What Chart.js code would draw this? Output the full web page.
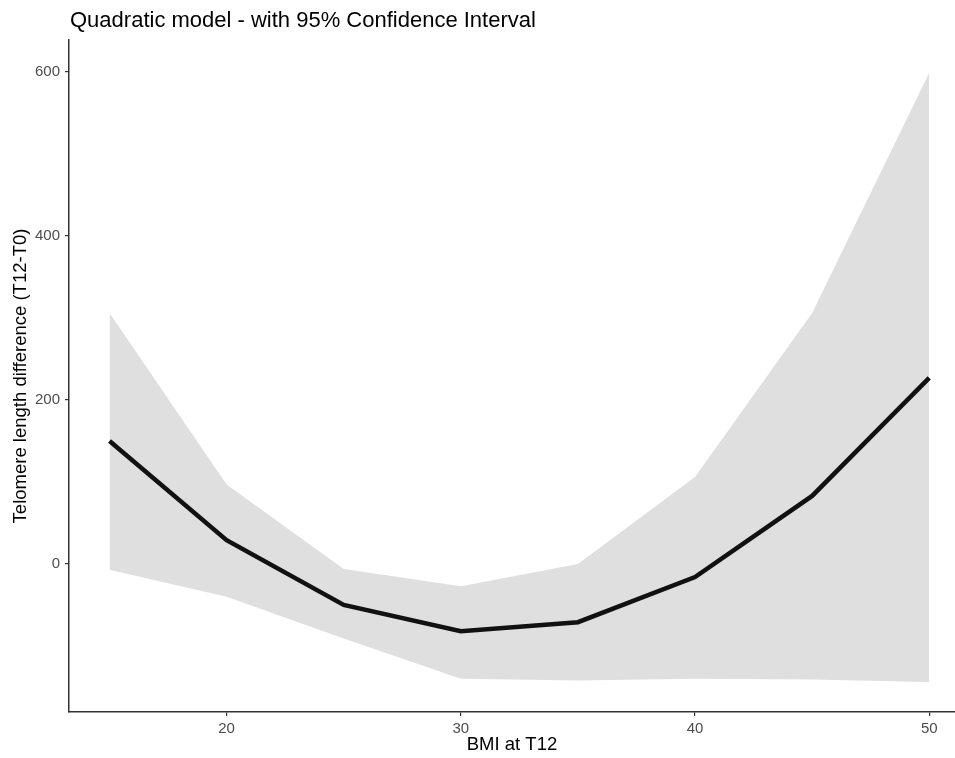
<!DOCTYPE html>
<html>
<head>
<meta charset="utf-8">
<title>Quadratic model - with 95% Confidence Interval</title>
<script src="https://cdn.jsdelivr.net/npm/chart.js@4.4.1/dist/chart.umd.min.js"></script>
<style>
  html, body { margin: 0; padding: 0; background: #fff; }
  #wrap { width: 955px; height: 758px; }
</style>
</head>
<body>
<div id="wrap"><canvas id="chart" width="955" height="758"></canvas></div>
<script>
const chartTitle = 'Quadratic model - with 95% Confidence Interval';
const xTitle = 'BMI at T12';
const yTitle = 'Telomere length difference (T12-T0)';

// BMI values where the model was evaluated
const bmi = [15, 20, 25, 30, 35, 40, 45, 50];
// fitted values and the 95% band
const fit = [150, 29, -50, -82, -71, -16, 83, 227];
const upper = [306, 97, -6, -27, 0, 106, 306, 599];
const lower = [-7, -40, -91, -140, -142, -140, -141, -144];

const xTicks = [20, 30, 40, 50];
const yTicks = [0, 200, 400, 600];

const fontFamily = '"Liberation Sans", Arial, sans-serif';
const axisColor = '#333333';
const tickColor = '#4d4d4d';

const toPoints = ys => bmi.map((x, i) => ({ x, y: ys[i] }));

// title sits flush with the left edge of the plot area
const titlePlugin = {
  id: 'leftTitle',
  afterDraw(chart) {
    const ctx = chart.ctx;
    ctx.save();
    ctx.font = '22px ' + fontFamily;
    ctx.fillStyle = '#000';
    ctx.textBaseline = 'alphabetic';
    ctx.textAlign = 'left';
    ctx.fillText(chartTitle, chart.chartArea.left + 1, 27);
    ctx.restore();
  }
};

new Chart(document.getElementById('chart'), {
  type: 'line',
  data: {
    datasets: [
      {
        label: 'Fit',
        data: toPoints(fit),
        borderColor: '#111111',
        borderWidth: 4.5,
        pointRadius: 0,
        tension: 0,
        fill: false
      },
      {
        label: 'Lower',
        data: toPoints(lower),
        borderWidth: 0,
        borderColor: 'rgba(0,0,0,0)',
        pointRadius: 0,
        fill: false
      },
      {
        label: 'Upper',
        data: toPoints(upper),
        borderWidth: 0,
        borderColor: 'rgba(0,0,0,0)',
        backgroundColor: '#dfdfdf',
        pointRadius: 0,
        fill: 1
      }
    ]
  },
  options: {
    responsive: false,
    animation: false,
    layout: { padding: { top: 40, right: 0, bottom: 0, left: 0 } },
    plugins: {
      legend: { display: false },
      tooltip: { enabled: false },
      title: { display: false }
    },
    scales: {
      x: {
        type: 'linear',
        min: 13.27,
        max: 51.1,
        afterBuildTicks: s => { s.ticks = xTicks.map(v => ({ value: v })); },
        afterFit: s => { s.height = 46; },
        grid: { display: true, drawOnChartArea: false, drawTicks: true, tickLength: 4, color: axisColor, lineWidth: 1.2 },
        border: { display: true, color: axisColor, width: 1.5 },
        ticks: { color: tickColor, font: { family: fontFamily, size: 15 }, padding: 4, maxRotation: 0 },
        title: { display: true, text: xTitle, color: '#000', font: { family: fontFamily, size: 18.5 }, padding: { top: 0, bottom: 2 } }
      },
      y: {
        type: 'linear',
        min: -180.5,
        max: 639,
        afterBuildTicks: s => { s.ticks = yTicks.map(v => ({ value: v })); },
        afterFit: s => { s.width = 69; },
        grid: { display: true, drawOnChartArea: false, drawTicks: true, tickLength: 4, color: axisColor, lineWidth: 1.2 },
        border: { display: true, color: axisColor, width: 1.5 },
        ticks: { color: tickColor, font: { family: fontFamily, size: 15 }, padding: 5 },
        title: { display: true, text: yTitle, color: '#000', font: { family: fontFamily, size: 18.5 }, padding: { top: 10, bottom: 0 } }
      }
    }
  },
  plugins: [titlePlugin]
});
</script>
</body>
</html>
